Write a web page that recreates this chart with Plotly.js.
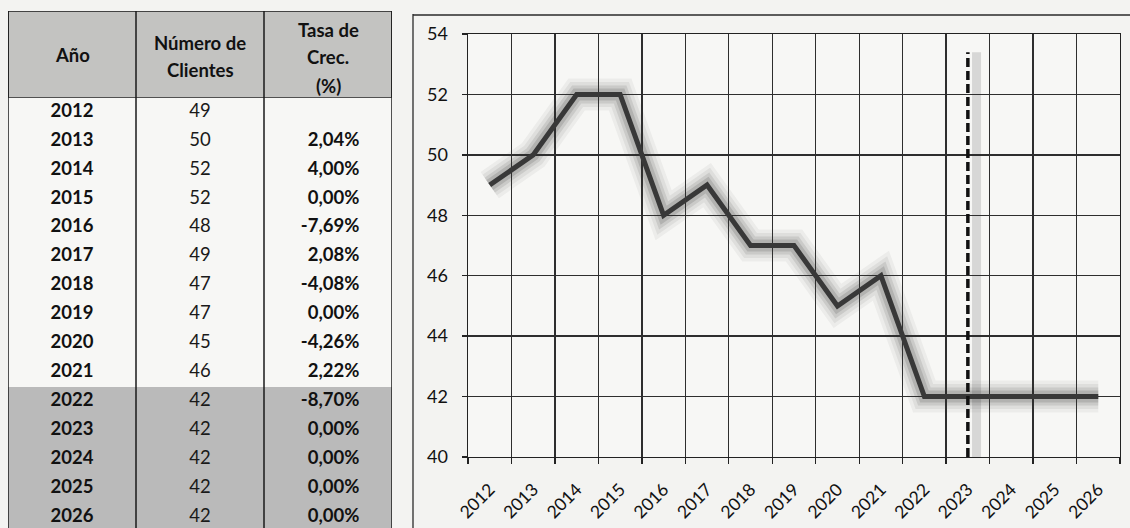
<!DOCTYPE html>
<html>
<head>
<meta charset="utf-8">
<script src="https://cdn.plot.ly/plotly-3.0.1.min.js"></script>
<style>html,body{margin:0;padding:0;background:#f3f3f1;}#chart{width:1130px;height:528px;}</style>
</head>
<body>
<div id="chart"></div>
<script>
// ---- data ----
const years = [2012, 2013, 2014, 2015, 2016, 2017, 2018, 2019, 2020, 2021, 2022, 2023, 2024, 2025, 2026];
const clients = [49, 50, 52, 52, 48, 49, 47, 47, 45, 46, 42, 42, 42, 42, 42];
const rates = ['', '2,04%', '4,00%', '0,00%', '-7,69%', '2,08%', '-4,08%', '0,00%', '-4,26%', '2,22%', '-8,70%', '0,00%', '0,00%', '0,00%', '0,00%'];
const headers = ['Año', 'Número de|Clientes', 'Tasa de|Crec.|(%)'];
const forecastFirstYear = 2022;
const markerYear = 2023;
const markerRange = [40, 53.4];
const yTicks = [40, 42, 44, 46, 48, 50, 52, 54];

const FONT = 'Lato, "Open Sans", sans-serif';
const yearLabels = years.map(String);

const traces = [];
// glow layers
[[32, 'rgba(60,60,60,0.06)'], [25, 'rgba(60,60,60,0.08)'], [18, 'rgba(50,50,50,0.11)'], [12, 'rgba(40,40,40,0.15)']].forEach(([w, c]) => {
  traces.push({type: 'scatter', mode: 'lines', x: yearLabels, y: clients, xaxis: 'x', yaxis: 'y',
    line: {color: c, width: w}, hoverinfo: 'skip', showlegend: false});
});
traces.push({type: 'scatter', mode: 'lines', x: yearLabels, y: clients, xaxis: 'x', yaxis: 'y',
  line: {color: '#383838', width: 5}, showlegend: false});
// dashed marker line
traces.push({type: 'scatter', mode: 'lines', x: [String(markerYear), String(markerYear)], y: markerRange,
  xaxis: 'x', yaxis: 'y', line: {color: '#111', width: 3.5, dash: '9px,4px'}, showlegend: false});

// table text
traces.push({type: 'scatter', mode: 'text', x: years.map(() => 0.5), y: years, text: years.map(y => '<b>' + y + '</b>'),
  xaxis: 'x2', yaxis: 'y2', textfont: {family: FONT, size: 18.5, color: '#111'}, showlegend: false, hoverinfo: 'skip'});
traces.push({type: 'scatter', mode: 'text', x: years.map(() => 1.5), y: years, text: clients.map(String),
  xaxis: 'x2', yaxis: 'y2', textfont: {family: FONT, size: 18.5, color: '#1a1a1a'}, showlegend: false, hoverinfo: 'skip'});
traces.push({type: 'scatter', mode: 'text', x: years.map(() => 2.745), y: years, text: rates.map(r => r ? '<b>' + r + '</b>' : ''),
  textposition: 'middle left', xaxis: 'x2', yaxis: 'y2', textfont: {family: FONT, size: 18.5, color: '#111'}, showlegend: false, hoverinfo: 'skip'});

const firstYear = years[0], lastYear = years[years.length - 1];
const headTop = firstYear - 3.5, headBot = firstYear - 0.5;
const shapes = [
  // table fills
  {type: 'rect', xref: 'x2', yref: 'y2', x0: 0, x1: 3, y0: headTop, y1: headBot, fillcolor: '#c3c3c1', line: {color: '#1a1a1a', width: 1.5}, layer: 'below'},
  {type: 'rect', xref: 'x2', yref: 'y2', x0: 0, x1: 3, y0: headBot, y1: forecastFirstYear - 0.5, fillcolor: '#f7f7f5', line: {width: 0}, layer: 'below'},
  {type: 'rect', xref: 'x2', yref: 'y2', x0: 0, x1: 3, y0: forecastFirstYear - 0.5, y1: lastYear + 1, fillcolor: '#bababa', line: {width: 0}, layer: 'below'},
  // column lines
  ...[0, 1, 2, 3].map(c => ({type: 'line', xref: 'x2', yref: 'y2', x0: c, x1: c, y0: headTop, y1: lastYear + 1, line: {color: '#1a1a1a', width: 1.5}})),
  // chart outer border
  {type: 'line', xref: 'paper', yref: 'paper', x0: 413 / 1130, x1: 413 / 1130, y0: 1 - 14 / 528, y1: -0.05, line: {color: '#2a2a2a', width: 1.3}},
  {type: 'line', xref: 'paper', yref: 'paper', x0: 413 / 1130, x1: 1.05, y0: 1 - 15 / 528, y1: 1 - 15 / 528, line: {color: '#2a2a2a', width: 1.3}},
  // shadow of marker line
  {type: 'line', xref: 'x', yref: 'y', x0: years.indexOf(markerYear) + 0.2, x1: years.indexOf(markerYear) + 0.2, y0: 39.6, y1: markerRange[1], line: {color: 'rgba(90,90,90,0.2)', width: 9}, layer: 'below'}
];

const annotations = [];
const headerX = [0.5, 1.5, 2.5];
const headerLineY = [[55], [43, 70], [30, 57, 86]];
headers.forEach((h, i) => {
  h.split('|').forEach((line, j) => {
    annotations.push({xref: 'x2', yref: 'paper', x: headerX[i], y: 1 - headerLineY[i][j] / 528, text: '<b>' + line + '</b>',
      showarrow: false, font: {family: FONT, size: 18.5, color: '#111'}, xanchor: 'center', yanchor: 'middle'});
  });
});

const layout = {
  width: 1130, height: 528,
  margin: {l: 0, r: 0, t: 0, b: 0},
  paper_bgcolor: '#f3f3f1', plot_bgcolor: '#f7f7f5',
  font: {family: FONT},
  showlegend: false,
  xaxis: {domain: [468 / 1130, 1120 / 1130], type: 'category', range: [-0.5, years.length - 0.5], tickson: 'boundaries',
    ticks: 'outside', ticklen: 6, tickcolor: '#222', tickwidth: 1.4, showgrid: true, gridcolor: '#2e2e2e', gridwidth: 1.4,
    showline: true, linecolor: '#222', linewidth: 1.4, mirror: true, tickangle: -45, ticklabelstandoff: 14,
    tickfont: {family: FONT, size: 17.5, color: '#111'}, zeroline: false, fixedrange: true},
  yaxis: {domain: [1 - 457 / 528, 1 - 34 / 528], range: [40, 54], tickvals: yTicks, ticks: 'outside', ticklen: 5,
    tickcolor: '#222', tickwidth: 1.4, showgrid: true, gridcolor: '#2e2e2e', gridwidth: 1.4, showline: true, linecolor: '#222',
    linewidth: 1.4, mirror: true, ticklabelstandoff: 10, tickfont: {family: FONT, size: 18, color: '#111'}, zeroline: false},
  xaxis2: {domain: [8 / 1130, 392 / 1130], range: [0, 3], visible: false, fixedrange: true},
  yaxis2: {domain: [0, 1 - 11 / 528], range: [2026.38, 2008.5], visible: false, fixedrange: true},
  shapes: shapes,
  annotations: annotations
};

Plotly.newPlot('chart', traces, layout, {staticPlot: true});
</script>
</body>
</html>
